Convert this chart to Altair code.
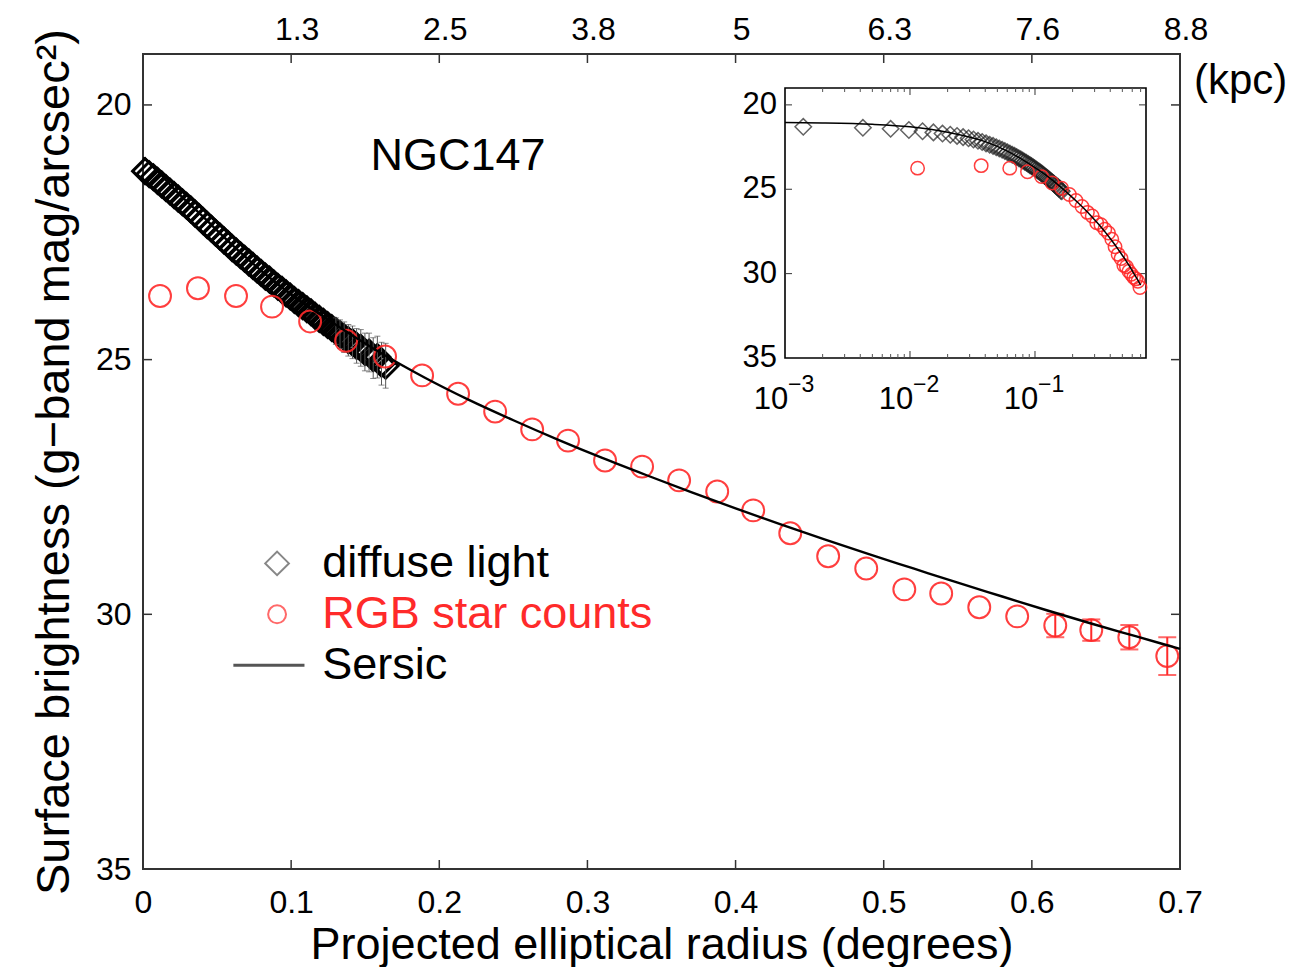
import altair as alt
import pandas as pd

W, H = 1037, 815
FONT = "Liberation Sans"
RED = "#ff2a2a"
INK = "#000000"

# ---------------- data ----------------
# diffuse light (black diamonds), radius in degrees, surface brightness in mag/arcsec^2
diffuse_r = [0.0014, 0.0042, 0.0070, 0.0098, 0.0126, 0.0154, 0.0182, 0.0210, 0.0238, 0.0266,
             0.0294, 0.0322, 0.0350, 0.0378, 0.0406, 0.0434, 0.0462, 0.0490, 0.0518, 0.0546,
             0.0574, 0.0602, 0.0630, 0.0658, 0.0686, 0.0714, 0.0742, 0.0770, 0.0798, 0.0826,
             0.0854, 0.0882, 0.0910, 0.0938, 0.0966, 0.0994, 0.1022, 0.1050, 0.1078, 0.1106,
             0.1134, 0.1162, 0.1190, 0.1218, 0.1246, 0.1274, 0.1302, 0.1330, 0.1358, 0.1386,
             0.1414, 0.1442, 0.1470, 0.1498, 0.1526, 0.1554, 0.1582, 0.1610, 0.1638]
diffuse_mu = [21.30, 21.36, 21.42, 21.49, 21.56, 21.63, 21.70, 21.77, 21.84, 21.91,
              21.98, 22.05, 22.13, 22.20, 22.28, 22.36, 22.43, 22.51, 22.58, 22.66,
              22.73, 22.81, 22.88, 22.95, 23.02, 23.09, 23.16, 23.23, 23.30, 23.37,
              23.43, 23.50, 23.57, 23.63, 23.70, 23.76, 23.83, 23.89, 23.95, 24.01,
              24.07, 24.14, 24.20, 24.26, 24.32, 24.38, 24.44, 24.50, 24.56, 24.62,
              24.66, 24.73, 24.77, 24.85, 24.86, 24.97, 24.95, 25.08, 25.12]
diffuse_err = [0] * 46 + [0.26, 0.28, 0.30, 0.31, 0.32, 0.34, 0.36, 0.37, 0.38, 0.40,
                          0.41, 0.42, 0.44]

# RGB star counts (red circles)
rgb_r = [0.0115, 0.0371, 0.0628, 0.0871, 0.1128, 0.1371, 0.1634, 0.1884, 0.2127, 0.2377,
         0.2627, 0.2869, 0.3119, 0.3369, 0.3619, 0.3876, 0.4119, 0.4369, 0.4625, 0.4882,
         0.5139, 0.5388, 0.5645, 0.5901, 0.6158, 0.6401, 0.6658, 0.6914]
rgb_mu = [23.75, 23.60, 23.75, 23.96, 24.25, 24.63, 24.94, 25.31, 25.67, 26.02,
          26.37, 26.59, 26.98, 27.10, 27.37, 27.59, 27.96, 28.41, 28.86, 29.10,
          29.51, 29.59, 29.86, 30.04, 30.22, 30.31, 30.45, 30.82]
rgb_err = [0] * 24 + [0.23, 0.21, 0.24, 0.37]

# Sersic fit (solid line)
sersic_r = [0.0, 0.001, 0.002, 0.005, 0.01, 0.02, 0.04, 0.06, 0.08, 0.10, 0.12, 0.14, 0.16,
            0.19, 0.22, 0.25, 0.28, 0.31, 0.34, 0.37, 0.40, 0.43, 0.46, 0.49, 0.52, 0.55,
            0.58, 0.61, 0.64, 0.67, 0.70]
sersic_mu = [21.04, 21.05, 21.07, 21.15, 21.30, 21.62, 22.18, 22.74, 23.26, 23.72, 24.12,
             24.50, 24.86, 25.35, 25.79, 26.19, 26.57, 26.93, 27.27, 27.60, 27.92, 28.23,
             28.53, 28.82, 29.10, 29.38, 29.65, 29.92, 30.18, 30.43, 30.68]

# axes
x_domain = [0, 0.7]
y_domain = [19, 35]
x_label_vals = [0, 0.1, 0.2, 0.3, 0.4, 0.5, 0.6, 0.7]
x_tick_vals = [0.1, 0.2, 0.3, 0.4, 0.5, 0.6]
y_label_vals = [20, 25, 30, 35]
y_tick_vals = [20, 25, 30]
kpc_pos = [0.1, 0.2, 0.3, 0.4, 0.5, 0.6, 0.7]
kpc_labels = ["1.3", "2.5", "3.8", "5", "6.3", "7.6", "8.8"]

# inset
inset_x_domain = [0.001, 0.773]
inset_y_domain = [19, 35]
inset_major = [0.001, 0.01, 0.1]
inset_exps = ["\u22123", "\u22122", "\u22121"]
inset_major_ticks = [0.01, 0.1]
inset_minor = [0.002, 0.003, 0.004, 0.005, 0.006, 0.007, 0.008, 0.009,
               0.02, 0.03, 0.04, 0.05, 0.06, 0.07, 0.08, 0.09,
               0.2, 0.3, 0.4, 0.5, 0.6, 0.7]
inset_y_labels = [20, 25, 30, 35]
inset_y_ticks = [20, 25, 30]

# legend
legend_labels = ["diffuse light", "RGB star counts", "Sersic"]
legend_mu = [29.0, 30.0, 31.0]
legend_colors = ["black", RED, "black"]

# ---------------- frames ----------------
diff_df = pd.DataFrame({"r": diffuse_r, "mu": diffuse_mu, "err": diffuse_err})
diff_df["lo"] = diff_df["mu"] - diff_df["err"]
diff_df["hi"] = diff_df["mu"] + diff_df["err"]
diff_eb = diff_df[diff_df["err"] > 0]

rgb_df = pd.DataFrame({"r": rgb_r, "mu": rgb_mu, "err": rgb_err})
rgb_df["lo"] = rgb_df["mu"] - rgb_df["err"]
rgb_df["hi"] = rgb_df["mu"] + rgb_df["err"]
rgb_eb = rgb_df[rgb_df["err"] > 0]

ser_df = pd.DataFrame({"r": sersic_r, "mu": sersic_mu})
ser_in = ser_df[ser_df["r"] > 0]

# ---------------- main panel ----------------
# every layer gets its own (identical) scale: all scales are fully explicit
def mx():
    return alt.Scale(domain=x_domain, range=[0, W], nice=False, zero=False)

def my():
    return alt.Scale(domain=y_domain, range=[0, H], nice=False, zero=False)

x_axis = alt.Axis(values=x_label_vals, orient="bottom",
                  labelExpr="datum.value == 0 ? '0' : format(datum.value, '.1f')",
                  ticks=False, domain=False, grid=False, labelFlush=False, labelOverlap=False,
                  labelFontSize=32, labelPadding=18, labelColor="black",
                  title="Projected elliptical radius (degrees)", titleFontSize=45,
                  titleFontWeight="normal", titleColor="black", titlePadding=4)
y_axis = alt.Axis(values=y_label_vals, orient="left", ticks=False, domain=False, grid=False,
                  labelFlush=False, labelOverlap=False,
                  labelFontSize=32, labelPadding=12, labelColor="black",
                  title="Surface brightness (g\u2212band mag/arcsec\u00b2)", titleFontSize=47,
                  titleFontWeight="normal", titleColor="black", titlePadding=17)

def MX(field="r", axis=None):
    return alt.X(f"{field}:Q", scale=mx(), axis=axis)

def MY(field="mu", axis=None):
    return alt.Y(f"{field}:Q", scale=my(), axis=axis)

diffuse = alt.Chart(diff_df).mark_point(shape="diamond", filled=False, size=620,
                                        color=INK, strokeWidth=3.0, opacity=1).encode(
    x=MX(axis=x_axis), y=MY(axis=y_axis))
diff_bar = alt.Chart(diff_eb).mark_rule(color="#555", strokeWidth=1).encode(
    x=MX(), y=MY("lo"), y2="hi")
diff_cap = alt.Chart(diff_eb).mark_tick(orient="horizontal", color="#555", size=6,
                                        thickness=1).encode(x=MX(), y=MY("hi"))
diff_cap2 = alt.Chart(diff_eb).mark_tick(orient="horizontal", color="#555", size=6,
                                         thickness=1).encode(x=MX(), y=MY("lo"))

rgb = alt.Chart(rgb_df).mark_point(shape="circle", filled=False, size=480, color=RED,
                                   strokeWidth=2, opacity=0.9).encode(x=MX(), y=MY())
rgb_bar = alt.Chart(rgb_eb).mark_rule(color=RED, strokeWidth=2).encode(
    x=MX(), y=MY("lo"), y2="hi")
rgb_cap = alt.Chart(rgb_eb).mark_tick(orient="horizontal", color=RED, size=18,
                                      thickness=2).encode(x=MX(), y=MY("hi"))
rgb_cap2 = alt.Chart(rgb_eb).mark_tick(orient="horizontal", color=RED, size=18,
                                       thickness=2).encode(x=MX(), y=MY("lo"))

sersic = alt.Chart(ser_df).mark_line(color="black", strokeWidth=2.4,
                                     interpolate="monotone").encode(x=MX(), y=MY())

# inward ticks of the main frame
xt_df = pd.DataFrame({"r": x_tick_vals})
yt_df = pd.DataFrame({"mu": y_tick_vals})
tick_b = alt.Chart(xt_df).mark_rule(color="#333", strokeWidth=1.5).encode(
    x=MX(), y=alt.value(H), y2=alt.value(H - 9))
tick_t = alt.Chart(xt_df).mark_rule(color="#333", strokeWidth=1.5).encode(
    x=MX(), y=alt.value(0), y2=alt.value(9))
tick_l = alt.Chart(yt_df).mark_rule(color="#333", strokeWidth=1.5).encode(
    y=MY(), x=alt.value(0), x2=alt.value(9))
tick_r = alt.Chart(yt_df).mark_rule(color="#333", strokeWidth=1.5).encode(
    y=MY(), x=alt.value(W), x2=alt.value(W - 9))

kpc_df = pd.DataFrame({"r": kpc_pos, "t": kpc_labels})
kpc_text = alt.Chart(kpc_df).mark_text(fontSize=32, font=FONT, color="black", dx=6,
                                       baseline="middle", align="center").encode(
    x=MX(), y=alt.value(-24), text="t:N")
kpc_unit = alt.Chart(pd.DataFrame({"t": ["(kpc)"]})).mark_text(
    fontSize=42, font=FONT, color="black", align="left", baseline="middle").encode(
    x=alt.value(W + 14), y=alt.value(27), text="t:N")

name_df = pd.DataFrame({"r": [0.2127], "mu": [21.0], "t": ["NGC147"]})
name_text = alt.Chart(name_df).mark_text(fontSize=45, font=FONT, color="black",
                                         align="center", baseline="middle").encode(
    x=MX(), y=MY(), text="t:N")

# legend built from marks
leg_sym_d = alt.Chart(pd.DataFrame({"r": [0.0905], "mu": [legend_mu[0]]})).mark_point(
    shape="diamond", filled=False, size=560, color="#555", strokeWidth=2).encode(x=MX(), y=MY())
leg_sym_c = alt.Chart(pd.DataFrame({"r": [0.0905], "mu": [legend_mu[1]]})).mark_point(
    shape="circle", filled=False, size=320, color=RED, strokeWidth=2).encode(x=MX(), y=MY())
leg_line = alt.Chart(pd.DataFrame({"r": [0.061, 0.109], "mu": [legend_mu[2]] * 2})).mark_line(
    color="#555", strokeWidth=3).encode(x=MX(), y=MY())
leg_txt_df = pd.DataFrame({"r": [0.121] * 3, "mu": legend_mu, "t": legend_labels,
                           "c": legend_colors})
leg_text = alt.Chart(leg_txt_df).mark_text(fontSize=45, font=FONT, align="left",
                                           baseline="middle").encode(
    x=MX(), y=MY(), text="t:N", color=alt.Color("c:N", scale=None))

main_layers = [diffuse, diff_bar, diff_cap, diff_cap2, rgb, rgb_bar, rgb_cap, rgb_cap2,
               sersic, tick_b, tick_t, tick_l, tick_r, kpc_text, kpc_unit, name_text,
               leg_sym_d, leg_sym_c, leg_line, leg_text]

# ---------------- inset panel ----------------
IL, IR, IT, IB = 642, 1003, 34, 304

def ix():
    return alt.Scale(type="log", domain=inset_x_domain, range=[IL, IR], nice=False)

def iy():
    return alt.Scale(domain=inset_y_domain, range=[IT, IB], nice=False, zero=False)

def IX(field="r"):
    return alt.X(f"{field}:Q", scale=ix(), axis=None)

def IY(field="mu"):
    return alt.Y(f"{field}:Q", scale=iy(), axis=None)

frame_df = pd.DataFrame({"x1": [inset_x_domain[0]], "x2": [inset_x_domain[1]],
                         "y1": [inset_y_domain[0]], "y2": [inset_y_domain[1]]})
i_frame = alt.Chart(frame_df).mark_rect(fill="white", stroke="black", strokeWidth=1.6).encode(
    x=IX("x1"), x2="x2", y=IY("y1"), y2="y2")

imaj_df = pd.DataFrame({"r": inset_major_ticks})
imin_df = pd.DataFrame({"r": inset_minor})
iyt_df = pd.DataFrame({"mu": inset_y_ticks})
i_tb_maj = alt.Chart(imaj_df).mark_rule(color="#333", strokeWidth=1).encode(
    x=IX(), y=alt.value(IB), y2=alt.value(IB - 7))
i_tt_maj = alt.Chart(imaj_df).mark_rule(color="#333", strokeWidth=1).encode(
    x=IX(), y=alt.value(IT), y2=alt.value(IT + 7))
i_tb_min = alt.Chart(imin_df).mark_rule(color="#555", strokeWidth=1).encode(
    x=IX(), y=alt.value(IB), y2=alt.value(IB - 4))
i_tt_min = alt.Chart(imin_df).mark_rule(color="#555", strokeWidth=1).encode(
    x=IX(), y=alt.value(IT), y2=alt.value(IT + 4))
i_tl = alt.Chart(iyt_df).mark_rule(color="#333", strokeWidth=1).encode(
    y=IY(), x=alt.value(IL), x2=alt.value(IL + 7))
i_tr = alt.Chart(iyt_df).mark_rule(color="#333", strokeWidth=1).encode(
    y=IY(), x=alt.value(IR), x2=alt.value(IR - 7))

iyl_df = pd.DataFrame({"mu": inset_y_labels, "t": [str(v) for v in inset_y_labels]})
i_ylab = alt.Chart(iyl_df).mark_text(fontSize=31, font=FONT, color="black", align="right",
                                     baseline="middle").encode(
    x=alt.value(IL - 8), y=IY(), text="t:N")
ixl_df = pd.DataFrame({"r": inset_major, "e": inset_exps, "b": ["10"] * 3})
i_xbase = alt.Chart(ixl_df).mark_text(fontSize=31, font=FONT, color="black", align="center",
                                      baseline="middle", dx=-14).encode(
    x=IX(), y=alt.value(IB + 42), text="b:N")
i_xexp = alt.Chart(ixl_df).mark_text(fontSize=23, font=FONT, color="black", align="left",
                                     baseline="middle", dx=3).encode(
    x=IX(), y=alt.value(IB + 27), text="e:N")

i_ser = alt.Chart(ser_in).mark_line(color="black", strokeWidth=1.5,
                                    interpolate="monotone").encode(x=IX(), y=IY())
i_diff = alt.Chart(diff_df).mark_point(shape="diamond", filled=False, size=270, color="#222",
                                       strokeWidth=1.5).encode(x=IX(), y=IY())
i_rgb = alt.Chart(rgb_df).mark_point(shape="circle", filled=False, size=180, color=RED,
                                     strokeWidth=1.5, opacity=0.9).encode(x=IX(), y=IY())

inset_layers = [i_frame, i_tb_maj, i_tt_maj, i_tb_min, i_tt_min, i_tl, i_tr,
                i_ylab, i_xbase, i_xexp, i_diff, i_rgb, i_ser]

chart = (
    alt.layer(*(main_layers + inset_layers))
    .resolve_scale(x="independent", y="independent")
    .properties(width=W, height=H,
                padding={"left": 22, "top": 6, "right": 5, "bottom": 0})
    .configure_view(stroke="#333", strokeWidth=2)
    .configure_axis(labelFont=FONT, titleFont=FONT)
    .configure_text(font=FONT)
)

chart.save("out.html", embed_options={"renderer": "svg", "actions": False})
